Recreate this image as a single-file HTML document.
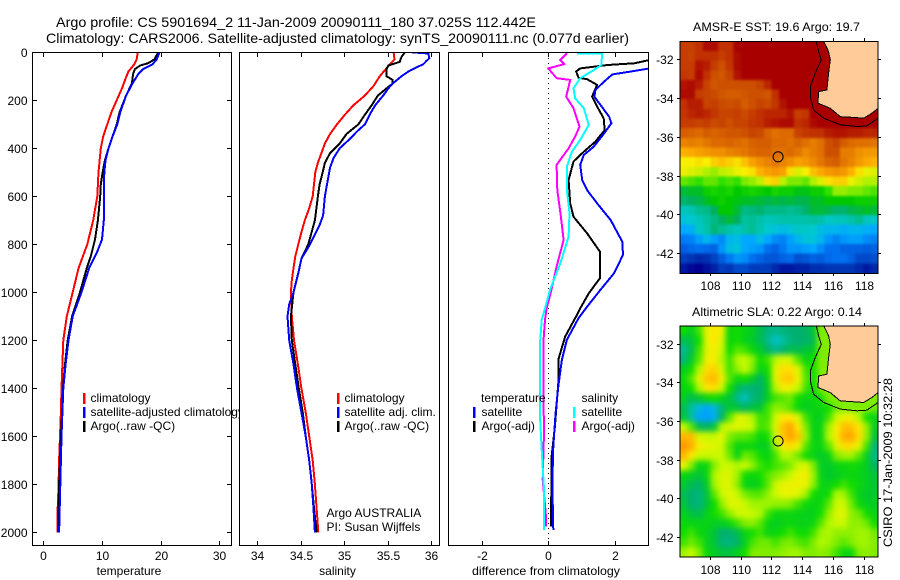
<!DOCTYPE html>
<html lang="en">
<head>
<meta charset="utf-8">
<title>Argo profile chart</title>
<style>
html,body{margin:0;padding:0;background:#fff;}
svg{display:block;font-family:"Liberation Sans",sans-serif;font-size:12px;fill:#000;}
</style>
</head>
<body>
<svg id="chart" xmlns="http://www.w3.org/2000/svg" width="900" height="580" viewBox="0 0 900 580">
<defs>
<clipPath id="clip1"><rect x="32" y="52" width="199" height="493"/></clipPath>
<clipPath id="clip2"><rect x="239" y="52" width="200" height="493"/></clipPath>
<clipPath id="clip3"><rect x="448" y="52" width="200" height="493"/></clipPath>
<clipPath id="clipMapA"><rect x="680" y="41" width="198" height="232"/></clipPath>
<clipPath id="clipMapB"><rect x="680" y="326" width="198" height="231"/></clipPath>
<filter id="softA" filterUnits="userSpaceOnUse" x="650" y="10" width="250" height="290" color-interpolation-filters="sRGB"><feGaussianBlur stdDeviation="1.3"/></filter>
<filter id="softB" filterUnits="userSpaceOnUse" x="650" y="295" width="250" height="285" color-interpolation-filters="sRGB"><feGaussianBlur stdDeviation="3"/></filter>
</defs>
<rect x="0" y="0" width="900" height="580" fill="#fff"/>
<text x="56" y="27" font-size="14" textLength="480" lengthAdjust="spacingAndGlyphs">Argo profile: CS 5901694_2 11-Jan-2009 20090111_180 37.025S 112.442E</text>
<text x="46" y="43" font-size="14" textLength="583" lengthAdjust="spacingAndGlyphs">Climatology: CARS2006. Satellite-adjusted climatology: synTS_20090111.nc (0.077d earlier)</text>

<g id="panel1">
<g id="marks1" clip-path="url(#clip1)"></g>
<rect x="32.5" y="52.5" width="199" height="493" fill="none" stroke="#000"/>
<g id="ticks1"></g>
<text x="129" y="575" text-anchor="middle">temperature</text>
<g>
<rect x="83" y="393" width="2.5" height="11" fill="#f00"/>
<text x="90.5" y="402">climatology</text>
<rect x="83" y="407" width="2.5" height="11" fill="#00f"/>
<text x="90.5" y="416">satellite-adjusted climatology</text>
<rect x="83" y="421" width="2.5" height="11" fill="#000"/>
<text x="90.5" y="430">Argo(..raw -QC)</text>
</g>
</g>

<g id="panel2">
<rect x="239" y="52" width="200" height="493" fill="#fff"/>
<g id="marks2" clip-path="url(#clip2)"></g>
<rect x="239.5" y="52.5" width="200" height="493" fill="none" stroke="#000"/>
<g id="ticks2"></g>
<text x="337.5" y="575" text-anchor="middle">salinity</text>
<g>
<rect x="337" y="393" width="2.5" height="11" fill="#f00"/>
<text x="344.5" y="402">climatology</text>
<rect x="337" y="407" width="2.5" height="11" fill="#00f"/>
<text x="344.5" y="416">satellite adj. clim.</text>
<rect x="337" y="421" width="2.5" height="11" fill="#000"/>
<text x="344.5" y="430">Argo(..raw -QC)</text>
</g>
<text x="326.5" y="517">Argo AUSTRALIA</text>
<text x="326.5" y="531">PI: Susan Wijffels</text>
</g>

<g id="panel3">
<line x1="548.5" y1="53" x2="548.5" y2="545" stroke="#000" stroke-dasharray="1 4"/>
<g id="marks3" clip-path="url(#clip3)"></g>
<rect x="448.5" y="52.5" width="200" height="493" fill="none" stroke="#000"/>
<g id="ticks3"></g>
<text x="546" y="575" text-anchor="middle" textLength="148" lengthAdjust="spacingAndGlyphs">difference from climatology</text>
<g>
<text x="481" y="402">temperature</text>
<rect x="473" y="407" width="2.5" height="11" fill="#00f"/>
<text x="481.5" y="416">satellite</text>
<rect x="473" y="421" width="2.5" height="11" fill="#000"/>
<text x="481.5" y="430">Argo(-adj)</text>
<text x="581.5" y="402">salinity</text>
<rect x="573" y="407" width="2.5" height="11" fill="#0ff"/>
<text x="581.5" y="416">satellite</text>
<rect x="573" y="421" width="2.5" height="11" fill="#f0f"/>
<text x="581.5" y="430">Argo(-adj)</text>
</g>
</g>

<g id="mapA">
<text x="693" y="31" textLength="167" lengthAdjust="spacingAndGlyphs">AMSR-E SST: 19.6 Argo: 19.7</text>
<g clip-path="url(#clipMapA)"><g id="cellsA" filter="url(#softA)" shape-rendering="crispEdges"></g></g>
<g id="overlayA" clip-path="url(#clipMapA)"></g>
<rect x="680" y="41.5" width="198" height="232" fill="none" stroke="#000"/>
<g id="ticksA"></g>
</g>

<g id="mapB">
<text x="692" y="316" textLength="170" lengthAdjust="spacingAndGlyphs">Altimetric SLA: 0.22 Argo: 0.14</text>
<g clip-path="url(#clipMapB)"><g id="cellsB" filter="url(#softB)" shape-rendering="crispEdges"></g></g>
<g id="overlayB" clip-path="url(#clipMapB)"></g>
<rect x="680" y="326" width="198" height="231" fill="none" stroke="#000"/>
<g id="ticksB"></g>
</g>

<text transform="translate(892,547) rotate(-90)" textLength="169" lengthAdjust="spacingAndGlyphs">CSIRO 17-Jan-2009 10:32:28</text>
</svg>

<script>
// ---- Profile data ----
const tempClimDepth = [0,30,50,80,110,150,200,250,300,350,400,500,600,700,800,900,1000,1100,1200,1300,1400,1500,1600,1700,1800,1900,2000];
const tempClim = [16.1,15.9,15.5,14.5,14.0,13.4,12.5,11.6,10.9,10.2,9.8,9.4,9.2,8.5,7.5,6.0,5.0,4.0,3.4,3.25,3.1,3.0,2.85,2.7,2.6,2.45,2.45];
const tempSatDepth = [0,30,50,70,90,130,180,250,300,350,400,450,500,600,700,780,830,900,1000,1100,1200,1300,1400,1500,1600,1700,1800,1900,2000];
const tempSat = [19.8,19.3,18.6,17.0,16.2,15.2,14.1,13.1,12.6,11.8,11.1,10.6,10.4,10.3,10.3,10.0,9.2,7.8,6.5,5.0,4.3,3.8,3.4,3.25,3.1,3.0,2.9,2.8,2.7];
const tempArgoDepth = [0,30,45,55,70,90,110,130,180,250,300,350,400,450,500,550,600,700,780,850,900,1000,1100,1200,1300,1400,1500,1600,1700,1800,1900,2000];
const tempArgo = [19.6,18.9,17.9,16.5,15.6,15.3,15.2,15.1,14.1,13.0,12.5,11.8,11.1,10.5,10.1,9.8,9.7,9.3,8.8,8.1,7.4,6.25,4.9,4.15,3.7,3.35,3.2,3.0,2.85,2.7,2.6,2.55];

const salClimDepth = [0,30,45,70,100,140,180,220,260,300,340,380,420,460,500,600,650,700,750,800,850,900,950,1000,1100,1200,1300,1400,1500,1600,1700,1800,1900,2000];
const salClim = [35.57,35.58,35.54,35.48,35.41,35.34,35.24,35.11,35.01,34.92,34.84,34.78,34.74,34.70,34.67,34.64,34.60,34.55,34.51,34.475,34.44,34.42,34.40,34.39,34.40,34.425,34.47,34.51,34.56,34.60,34.64,34.665,34.685,34.705];
const salSatDepth = [0,5,25,35,50,65,80,100,130,150,180,220,250,300,330,360,400,440,480,520,600,680,720,800,860,920,1000,1050,1100,1200,1300,1400,1500,1600,1700,1800,1900,2000];
const salSat = [35.78,35.97,35.98,35.95,35.91,35.82,35.74,35.66,35.56,35.51,35.45,35.36,35.31,35.24,35.15,35.07,34.95,34.88,34.84,34.82,34.78,34.76,34.72,34.61,34.51,34.475,34.42,34.37,34.35,34.37,34.42,34.46,34.51,34.56,34.60,34.63,34.65,34.665];
const salArgoDepth = [0,20,40,55,70,100,115,130,150,180,220,260,300,340,380,420,460,500,550,600,700,800,860,920,1000,1100,1200,1300,1400,1500,1600,1700,1800,1900,2000];
const salArgo = [35.70,35.66,35.64,35.51,35.49,35.49,35.56,35.56,35.49,35.39,35.32,35.24,35.165,35.03,34.95,34.84,34.78,34.755,34.72,34.70,34.665,34.59,34.51,34.475,34.42,34.39,34.40,34.44,34.48,34.525,34.56,34.60,34.63,34.655,34.685];

const diffTempSatDepth = [67,80,92,122,157,185,219,268,296,338,393,428,469,532,574,629,699,789,844,921,990,1060,1108,1198,1281,1392,1503,1642,1795,1990];
const diffTempSat = [3.05,2.49,1.93,1.68,1.42,1.39,1.57,1.83,1.9,1.68,1.37,1.07,0.96,1.02,1.17,1.47,1.88,2.23,2.25,1.98,1.57,1.17,0.91,0.56,0.41,0.3,0.22,0.15,0.12,0.15];
const diffTempArgoDepth = [32,46,53,67,80,106,112,136,185,226,275,324,372,414,455,532,629,685,754,830,942,1004,1067,1094,1184,1281,1378,1559,1684,1976];
const diffTempArgo = [3.05,2.59,1.78,0.96,0.84,0.91,1.17,1.47,1.32,1.47,1.67,1.7,1.42,1.07,0.76,0.61,0.66,0.76,1.17,1.55,1.55,1.22,0.96,0.86,0.51,0.3,0.3,0.2,0.1,0.08];
const diffSalSatDepth = [4,4,53,74,108,150,192,233,303,365,414,476,574,671,768,879,990,1067,1115,1212,1378,1517,1656,1823,1990];
const diffSalSat = [0.86,1.62,1.6,1.37,0.96,0.76,0.81,1.07,1.22,0.96,0.71,0.56,0.56,0.64,0.61,0.36,0.05,-0.1,-0.2,-0.25,-0.25,-0.25,-0.2,-0.13,-0.13];
const diffSalArgoDepth = [4,32,49,67,108,115,185,233,310,351,400,469,574,685,782,893,1004,1067,1115,1212,1378,1586,1781,1934,1976];
const diffSalArgo = [0.56,0.36,0.48,0,0.25,0.66,0.54,0.76,0.94,0.81,0.61,0.25,0.27,0.38,0.46,0.25,0.07,-0.05,-0.1,-0.15,-0.15,-0.13,-0.17,-0.07,-0.07];

// ---- Tick labels ----
const depthTicks = [0,200,400,600,800,1000,1200,1400,1600,1800,2000];
const tempTicks = [0,10,20,30];
const salTicks = [34,34.5,35,35.5,36];
const diffTicks = [-2,0,2];
const lonTicks = [108,110,112,114,116,118];
const latTicks = [-32,-34,-36,-38,-40,-42];

// ---- Map data (26 columns x 24 rows, north to south) ----
const sstValues = [
[20.3,20.3,20.5,20.9,20.9,20.5,20.5,21,21,21,21,21,21,21,21,21,21,21,21,21,21,21,21,21,21,21],
[20.3,20.2,20.5,20.5,20.5,20.3,20.5,20.9,21,21,21,21,21,21,21,21,21,21,21,21,21,21,21,21,21,21],
[20.3,20.3,20.8,20.7,20.3,20.0,20.4,20.9,21,21,21,21,21,21,21,21,21,21,21,21,21,21,21,21,21,21],
[20.4,20.3,20.9,20.5,20.0,19.9,20.2,20.8,21,21,21,21,21,21,21,21,21,21,21,21,21,21,21,21,21,21],
[20.8,20.9,20.7,20.2,19.9,20,20,20,20,20,20.2,20.6,21,21,21,21,21,21,21,21,21,21,21,21,21,21],
[20.9,20.9,20.3,20.2,20.1,19.9,19.8,19.8,19.9,20.0,20.0,19.9,20.5,21,21,21,21,21,21,21,21,21,21,21,21,21],
[20.5,20.7,20.7,20.2,20.3,20.1,20.0,20.1,19.8,20.0,20.2,20.1,20.4,20.8,21,21,21,21,21,21,21,21,21,21,21,21],
[20.4,20.6,20.7,20.6,20.4,20.2,20.2,20.3,20.1,20.3,20.5,20.6,20.6,20.6,20.8,20.3,20.4,21,21,21,21,21,21,21,21,21],
[20.3,20.3,20.2,20.3,20.1,20.2,20.0,20.2,20.2,20.4,20.5,20.7,20.8,20.9,20.9,20.5,20.6,20.9,21,21,21,21,21,21,21,21],
[19.8,19.7,19.6,19.8,19.7,19.8,19.9,19.9,20.0,20.2,20.1,19.7,19.5,19.6,19.6,20.2,20.4,20.5,20.5,20.7,20.8,20.8,20.7,20.7,20.6,20.6],
[19.2,19.3,19.2,19.4,19.6,19.6,19.7,19.6,19.5,19.7,19.8,19.8,19.6,19.6,19.5,19.7,19.5,19.3,19.5,20.0,20.2,19.8,19.6,19.5,19.5,19.4],
[18.6,18.7,18.8,18.9,19.0,19.0,19.2,19.3,19.4,19.6,19.7,19.7,19.5,19.5,19.6,19.4,19.1,19.3,19.5,20.0,20.0,19.3,19.3,19.0,18.9,18.9],
[18.2,18.2,18.3,18.2,18.4,18.5,18.4,18.3,18.5,18.8,19.0,19.2,19.4,19.2,19.0,18.8,18.9,19.1,19.4,19.7,19.8,19.4,19.2,18.9,18.7,18.6],
[18.1,18.0,17.9,17.7,17.6,17.8,17.9,18.1,18.2,18.3,18.6,18.8,18.9,18.8,18.3,18.0,18.2,18.5,18.7,18.9,19.0,18.9,18.6,18.3,18.1,18.0],
[17.4,17.3,17.2,17.4,17.4,17.2,17.3,17.2,17.5,17.6,17.8,18.3,18.4,17.8,17.5,17.5,17.4,17.7,18.0,18.3,18.4,18.4,18.1,17.9,17.7,17.7],
[16.5,16.6,16.6,16.9,17.0,16.9,17.0,16.8,16.9,17.0,16.9,16.8,17.0,16.9,16.9,16.7,16.7,16.9,16.9,17.2,17.6,17.6,17.5,17.5,17.4,17.3],
[16.2,16.3,16.4,16.6,16.8,16.9,16.8,16.7,16.6,16.6,16.5,16.4,16.5,16.4,16.5,16.4,16.4,16.6,16.6,16.8,16.8,16.8,16.8,16.9,16.9,16.9],
[15.5,15.6,15.9,16.0,16.3,16.8,16.8,16.5,16.0,16.1,16.2,16.0,16.0,16.0,15.9,16.0,16.2,16.5,16.5,16.4,16.2,16.2,16.4,16.5,16.6,16.5],
[15.2,15.3,15.5,15.8,16.0,16.3,16.5,16.3,15.8,15.9,15.7,15.5,15.6,15.7,15.7,15.7,15.7,15.8,15.7,15.4,15.5,15.5,15.7,15.9,15.5,15.4],
[14.8,14.9,15.4,15.7,16.1,15.9,15.7,15.5,15.7,15.9,15.6,15.3,15.2,15.1,15.2,15.4,15.4,15.3,15.1,15.0,15.0,14.9,15.0,15.0,14.9,14.8],
[14.3,14.4,14.7,15.0,14.7,14.5,15.0,15.1,14.8,14.8,15.1,14.8,14.5,14.4,14.7,15.0,15.2,15.2,15.0,14.6,14.4,14.6,14.7,14.7,14.5,14.4],
[13.9,14.1,14.2,14.1,14.0,14.6,15.1,15.2,14.8,14.7,14.6,14.2,14.0,14.3,14.6,14.6,14.7,14.8,14.5,14.2,14.2,14.0,14.0,14.0,13.9,14.0],
[13.4,13.3,13.1,13.2,13.5,13.9,14.3,14.6,14.5,14.2,14.0,13.8,13.8,14.0,14.1,13.7,13.8,14.0,13.9,14.1,14.2,14.2,14.0,13.6,13.6,13.7],
[12.9,12.7,12.6,12.8,13.0,13.4,13.3,13.6,13.6,13.4,13.4,13.4,13.1,12.9,12.9,13.0,13.0,13.2,13.2,13.3,13.3,13.3,13.3,13.1,12.9,13.1]
];
const slaValues = [
[0,-.05,.02,.14,.2,.15,-.02,0,-.03,-.05,-.1,-.15,-.17,-.15,-.13,-.13,-.12,-.08,.05,.05,.05,.05,.05,.05,.05,.05],
[-.1,-.08,0,.14,.2,.12,-.02,0,-.04,-.06,-.1,-.17,-.27,-.2,-.15,-.13,-.13,-.1,.05,.05,.05,.05,.05,.05,.05,.05],
[-.18,-.1,.02,.13,.18,.1,0,.03,.02,-.02,-.06,-.12,-.17,-.14,-.1,-.1,-.08,-.06,.05,.05,.05,.05,.05,.05,.05,.05],
[-.15,-.06,.03,.16,.18,.08,.02,.08,.1,.06,0,.02,.08,.12,.1,.03,-.03,0,.05,.05,.05,.05,.05,.05,.05,.05],
[-.05,0,.08,.22,.25,.12,.02,.06,.1,.05,-.03,0,.13,.22,.22,.13,.02,0,.05,.05,.05,.05,.05,.05,.05,.05],
[-.02,.03,.13,.27,.3,.17,.03,-.02,0,-.05,-.12,-.03,.13,.25,.27,.15,.03,0,.05,.05,.05,.05,.05,.05,.05,.05],
[-.03,0,.08,.2,.22,.1,0,-.1,-.15,-.14,-.13,-.05,.08,.17,.15,.1,.02,-.02,.05,.05,.05,.05,.05,.05,.05,.05],
[-.05,-.1,-.07,-.02,0,-.03,-.08,-.17,-.25,-.15,-.12,-.05,.02,.03,.04,0,-.03,-.02,0,.05,.05,.05,.05,.05,.05,.05],
[-.1,-.2,-.3,-.35,-.3,-.15,-.07,-.08,-.12,-.08,-.08,.02,.06,.05,.03,-.02,-.05,-.03,-.02,0,.04,.05,.05,.05,.05,.04],
[-.08,-.2,-.35,-.42,-.33,-.12,.03,.12,.12,.08,.02,.02,.1,.2,.2,.12,.02,-.03,-.05,.02,.1,.15,.15,.08,0,-.03],
[.1,.03,-.1,-.12,-.08,.08,.12,.13,.12,.1,.02,.03,.12,.28,.35,.2,.05,-.03,-.03,.07,.17,.28,.28,.2,.06,-.05],
[.3,.3,.12,.1,.1,.14,.05,.03,.03,.02,-.02,0,.1,.27,.35,.27,.07,-.03,-.03,.08,.18,.32,.35,.22,.06,-.08],
[.38,.33,.18,.13,.13,.1,.03,-.03,-.02,-.02,-.05,-.04,.06,.17,.22,.15,.03,-.02,-.03,.03,.12,.22,.22,.13,.02,-.15],
[.3,.2,.1,.1,.1,.1,.04,-.03,.04,.03,0,-.04,.02,.08,.08,.04,0,-.03,-.06,-.03,.05,.07,.07,.03,-.05,-.17],
[.14,.05,-.03,-.02,.05,.1,.1,.08,.1,.06,.02,0,.02,.03,.05,.1,.13,.05,-.05,-.06,-.03,-.02,-.01,-.02,-.05,-.12],
[-.03,-.05,-.08,-.03,.08,.12,.12,.07,0,-.02,0,.03,.05,.07,.1,.15,.17,.07,-.03,-.07,-.05,-.03,-.02,-.03,-.05,-.08],
[-.07,-.1,-.12,-.06,.07,.12,.12,.06,-.02,-.05,-.02,.03,.1,.14,.15,.15,.14,.06,-.02,-.03,0,.02,0,-.02,-.05,-.07],
[-.1,-.13,-.15,-.08,.03,.1,.13,.1,.05,.03,.03,.06,.1,.14,.14,.13,.07,0,-.03,0,.08,.07,.02,-.04,-.07,-.06],
[-.08,-.13,-.15,-.08,0,.06,.12,.13,.1,.07,.07,.07,.06,.06,.05,.02,-.01,-.03,-.02,.03,.1,.11,.04,-.01,-.05,-.05],
[-.05,-.08,-.1,-.04,0,.02,.06,.1,.11,.1,.08,.02,-.02,-.02,-.02,-.03,-.04,-.04,0,.06,.12,.13,.06,.04,0,-.03],
[-.02,-.03,-.03,-.03,-.05,-.05,-.02,.02,.05,.06,.03,-.02,-.05,-.03,-.02,-.03,-.04,-.02,.03,.08,.1,.1,.06,.06,.04,0],
[0,.02,-.02,-.04,-.08,-.13,-.13,-.1,-.03,0,.02,-.03,-.02,0,.02,0,-.01,.02,.07,.08,.06,.06,.06,.07,.07,.04],
[.02,.04,.02,-.04,-.08,-.14,-.15,-.12,-.05,.02,.04,.04,.02,.04,.05,.03,.02,.05,.08,.07,.05,.03,.05,.07,.07,.05],
[.07,.1,.05,-.02,-.05,-.08,-.08,-.05,0,.05,.05,.05,.05,.06,.07,.07,.05,.05,.06,.05,.02,-.02,-.02,.05,.06,.05]
];
const landLon = [115.4,115.72,115.83,115.72,115.61,115.07,115.03,115.29,115.83,116.48,117.13,118.0,118.54,118.93,119.5,119.5,115.4];
const landLat = [-31.07,-31.6,-32.03,-32.72,-33.58,-33.67,-34.27,-34.35,-34.53,-34.96,-34.99,-35.04,-34.78,-34.53,-34.53,-30.5,-30.5];
const contourLon = [114.92,115.07,115.25,114.85,114.53,114.53,114.75,115.4,116.48,117.57,118.2,118.93];
const contourLat = [-31.07,-31.6,-32.03,-32.72,-33.41,-33.92,-34.61,-35.04,-35.38,-35.47,-35.44,-35.04];
const argoLon = 112.44;
const argoLat = -37.03;

// ---- Colour scales (value -> colour stop) ----
const sstStopValues = [12.6,13.2,13.7,14.2,14.8,15.3,15.8,16.3,16.8,17.2,17.7,18.2,18.6,19,19.5,20,20.5,21];
const slaStopValues = [-0.36,-0.28,-0.2,-0.13,-0.07,0,0.04,0.09,0.14,0.2,0.3,0.4];
const sstStopColors = ['#000090','#0030b0','#0050d0','#0070f0','#00a8ff','#00c8d0','#00c0a0','#00b060','#00c800','#30e000','#b0f000','#f8f000','#ffb000','#f09000','#e07000','#cc5000','#c03000','#a80000'];
const slaStopColors = ['#00a0ff','#00c0d0','#00c0a0','#00b070','#00c830','#10dc00','#70ea00','#c0fa00','#e8f400','#ffe800','#ffb800','#ff9000'];

function hexRgb(h){return [parseInt(h.slice(1,3),16),parseInt(h.slice(3,5),16),parseInt(h.slice(5,7),16)];}
function colorFor(v,vals,cols){
  if(v<=vals[0])return cols[0];
  for(let i=1;i<vals.length;i++){
    if(v<=vals[i]){
      const t=(v-vals[i-1])/(vals[i]-vals[i-1]);
      const a=hexRgb(cols[i-1]),b=hexRgb(cols[i]);
      return 'rgb('+a.map((c,k)=>Math.round(c+(b[k]-c)*t)).join(',')+')';
    }
  }
  return cols[cols.length-1];
}

const NS='http://www.w3.org/2000/svg';
function mk(parent,tag,attrs,txt){
  const e=document.createElementNS(NS,tag);
  for(const k in attrs)e.setAttribute(k,attrs[k]);
  if(txt!==undefined)e.textContent=txt;
  parent.appendChild(e);
  return e;
}
function $(id){return document.getElementById(id);}

// ---- Axis functions ----
const depthY = d => 52.3 + d*0.24;
const tempX = v => 43.3 + v*5.87;
const salX = v => 257 + (v-34)*87;
const diffX = v => 548.3 + v*33.2;
const lonMin=106.07, lonMax=118.93, latMax=-31.07, latMin=-43.03;
const lonX = lon => 680 + (lon-lonMin)/(lonMax-lonMin)*198;
const latYA = lat => 41.3 + (latMax-lat)/(latMax-latMin)*231.7;
const latYB = lat => 325.7 + (latMax-lat)/(latMax-latMin)*231.3;

// ---- Profile lines ----
function drawLine(group,xFn,depths,values,color,name){
  const pts=values.map((v,i)=>xFn(v).toFixed(1)+','+depthY(depths[i]).toFixed(1)).join(' ');
  const p=mk(group,'polyline',{points:pts,fill:'none',stroke:color,'stroke-width':2,'shape-rendering':'crispEdges'});
  
  
}
drawLine($('marks1'),tempX,tempClimDepth,tempClim,'#f00','temperature-climatology-line');
drawLine($('marks1'),tempX,tempArgoDepth,tempArgo,'#000','temperature-argo-line');
drawLine($('marks1'),tempX,tempSatDepth,tempSat,'#00f','temperature-satellite-line');
drawLine($('marks2'),salX,salClimDepth,salClim,'#f00','salinity-climatology-line');
drawLine($('marks2'),salX,salArgoDepth,salArgo,'#000','salinity-argo-line');
drawLine($('marks2'),salX,salSatDepth,salSat,'#00f','salinity-satellite-line');
drawLine($('marks3'),diffX,diffTempArgoDepth,diffTempArgo,'#000','difference-temperature-argo-line');
drawLine($('marks3'),diffX,diffTempSatDepth,diffTempSat,'#00f','difference-temperature-satellite-line');
drawLine($('marks3'),diffX,diffSalArgoDepth,diffSalArgo,'#f0f','difference-salinity-argo-line');
drawLine($('marks3'),diffX,diffSalSatDepth,diffSalSat,'#0ff','difference-salinity-satellite-line');

// ---- Profile axes ----
function tickLine(g,x1,y1,x2,y2){
  const t=mk(g,'line',{x1:x1,y1:y1,x2:x2,y2:y2,stroke:'#000','shape-rendering':'crispEdges'});
  
  
}
function tickLabel(g,x,y,anchor,str){
  const t=mk(g,'text',{x:x,y:y,'text-anchor':anchor},str);
  
  
}
function xAxis(g,ticks,xFn){
  ticks.forEach(v=>{
    const x=Math.round(xFn(v))+0.5;
    tickLine(g,x,52,x,57);
    tickLine(g,x,541,x,546);
    tickLabel(g,x,560,'middle',String(v));
  });
}
xAxis($('ticks1'),tempTicks,tempX);
xAxis($('ticks2'),salTicks,salX);
xAxis($('ticks3'),diffTicks,diffX);
depthTicks.forEach(d=>{
  const y=Math.round(depthY(d))+0.5;
  tickLine($('ticks1'),32,y,37,y);
  tickLine($('ticks1'),227,y,232,y);
  tickLabel($('ticks1'),27.5,y+4.5,'end',String(d));
});

// ---- Maps ----
function drawMap(cellsId,overlayId,ticksId,values,vals,cols,latY,top,bottom,cellName){
  const cells=$(cellsId), nr=values.length;
  const dLat=(latMax-latMin)/nr;
  const pad=14; // edge cells run past the clip so softening does not fade at the frame
  values.forEach((row,j)=>{
    const dLon=(lonMax-lonMin)/row.length;
    row.forEach((v,i)=>{
      let x0=lonX(lonMin+i*dLon), x1=lonX(lonMin+(i+1)*dLon);
      let y0=latY(latMax-j*dLat), y1=latY(latMax-(j+1)*dLat);
      if(i===0)x0-=pad;
      if(i===row.length-1)x1+=pad;
      if(j===0)y0-=pad;
      if(j===nr-1)y1+=pad;
      const r=mk(cells,'rect',{x:x0.toFixed(1),y:y0.toFixed(1),width:(x1-x0+0.6).toFixed(1),height:(y1-y0+0.6).toFixed(1),fill:colorFor(v,vals,cols)});
      
      
    });
  });
  const ov=$(overlayId);
  const land=mk(ov,'polygon',{points:landLon.map((lo,i)=>lonX(lo).toFixed(1)+','+latY(landLat[i]).toFixed(1)).join(' '),fill:'#ffcc99',stroke:'#000','stroke-width':1,'shape-rendering':'crispEdges'});
  
  
  const cont=mk(ov,'polyline',{points:contourLon.map((lo,i)=>lonX(lo).toFixed(1)+','+latY(contourLat[i]).toFixed(1)).join(' '),fill:'none',stroke:'#000','stroke-width':1,'shape-rendering':'crispEdges'});
  
  
  const c=mk(ov,'circle',{cx:lonX(argoLon).toFixed(1),cy:latY(argoLat).toFixed(1),r:5,fill:'none',stroke:'#000','stroke-width':1});
  
  
  const tg=$(ticksId);
  lonTicks.forEach(lo=>{
    const x=Math.round(lonX(lo))+0.5;
    tickLine(tg,x,top-3,x,top);
    tickLine(tg,x,bottom,x,bottom+3);
    tickLabel(tg,x,bottom+17,'middle',String(lo));
  });
  latTicks.forEach(la=>{
    const y=Math.round(latY(la))+0.5;
    tickLine(tg,677,y,680,y);
    tickLine(tg,878,y,881,y);
    tickLabel(tg,673.5,y+4.5,'end',String(la));
  });
}
drawMap('cellsA','overlayA','ticksA',sstValues,sstStopValues,sstStopColors,latYA,41,273,'sst-heatmap-cell');
drawMap('cellsB','overlayB','ticksB',slaValues,slaStopValues,slaStopColors,latYB,326,557,'sla-heatmap-cell');
</script>
</body>
</html>
